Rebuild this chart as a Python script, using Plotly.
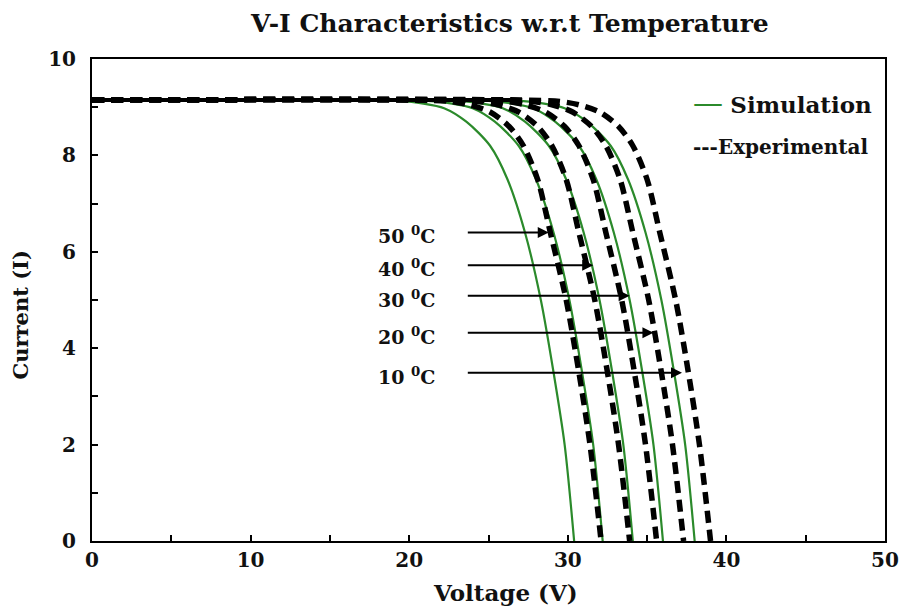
import plotly.graph_objects as go

# ---------------- data ----------------
temperatures = ["50", "40", "30", "20", "10"]

# Simulation curves (current grid shared, voltages per curve)
sim_current = [9.15, 9.15, 9.13, 9.08, 8.98, 8.7, 8.2, 7.5, 6.4, 5.0, 3.5, 2.0, 0.0]
sim_v_50 = [0, 17.4, 19.4, 20.8, 22.2, 23.6, 25.1, 26.2, 27.3, 28.3, 29.1, 29.8, 30.4]
sim_v_40 = [0, 19.2, 21.2, 22.6, 24.0, 25.4, 26.9, 28.0, 29.1, 30.1, 30.9, 31.6, 32.2]
sim_v_30 = [0, 21.1, 23.1, 24.5, 25.9, 27.3, 28.8, 29.9, 31.0, 32.0, 32.8, 33.5, 34.1]
sim_v_20 = [0, 23.0, 25.0, 26.4, 27.8, 29.2, 30.7, 31.8, 32.9, 33.9, 34.7, 35.4, 36.0]
sim_v_10 = [0, 25.0, 27.0, 28.4, 29.8, 31.2, 32.7, 33.8, 34.9, 35.9, 36.7, 37.4, 38.0]

# Experimental curves
exp_current = [9.15, 9.15, 9.12, 9.05, 8.9, 8.6, 8.2, 7.5, 6.4, 5.0, 3.5, 2.0, 0.0]
exp_v_50 = [0, 20.1, 22.6, 23.8, 25.1, 26.3, 27.2, 28.1, 28.9, 29.9, 30.7, 31.4, 32.1]
exp_v_40 = [0, 21.9, 24.4, 25.6, 26.9, 28.1, 29.0, 29.9, 30.7, 31.7, 32.5, 33.2, 33.9]
exp_v_30 = [0, 23.6, 26.1, 27.3, 28.6, 29.8, 30.7, 31.6, 32.4, 33.4, 34.2, 34.9, 35.6]
exp_v_20 = [0, 25.3, 27.8, 29.0, 30.3, 31.5, 32.4, 33.3, 34.1, 35.1, 35.9, 36.6, 37.3]
exp_v_10 = [0, 27.0, 29.5, 30.7, 32.0, 33.2, 34.1, 35.0, 35.8, 36.8, 37.6, 38.3, 39.0]

# Arrow pointers (tip on experimental curve, tail voltage, label voltage)
arrow_tip_v = [28.8, 31.6, 33.9, 35.4, 37.2]
arrow_tip_i = [6.40, 5.72, 5.09, 4.32, 3.49]
arrow_tail_v = 23.6
label_v = 19.8

sim_sets = [sim_v_50, sim_v_40, sim_v_30, sim_v_20, sim_v_10]
exp_sets = [exp_v_50, exp_v_40, exp_v_30, exp_v_20, exp_v_10]

GREEN = "#2b8a2b"
FONT = "DejaVu Serif"

fig = go.Figure()

for v in sim_sets:
    fig.add_trace(go.Scatter(x=v, y=sim_current, mode="lines",
                             line=dict(color=GREEN, width=2.2, shape="spline", smoothing=0.8),
                             showlegend=False, hoverinfo="skip"))

for v in exp_sets:
    fig.add_trace(go.Scatter(x=v, y=exp_current, mode="lines",
                             line=dict(color="black", width=5.5, dash="12px,7px",
                                       shape="spline", smoothing=0.8),
                             showlegend=False, hoverinfo="skip"))
    # plateau part of the measurement, merged into a solid band
    plateau = [(x, y) for x, y in zip(v, exp_current) if y >= 9.15]
    fig.add_trace(go.Scatter(x=[p[0] for p in plateau], y=[p[1] for p in plateau],
                             mode="lines", line=dict(color="black", width=4),
                             showlegend=False, hoverinfo="skip"))

annotations = []
for t, tv, ti in zip(temperatures, arrow_tip_v, arrow_tip_i):
    annotations.append(dict(x=tv, y=ti, xref="x", yref="y", ax=arrow_tail_v, ay=ti,
                            axref="x", ayref="y", text="", showarrow=True,
                            arrowhead=2, arrowsize=1.1, arrowwidth=2, arrowcolor="black"))
    annotations.append(dict(x=label_v, y=ti - 0.06, xref="x", yref="y",
                            text=f"<b>{t} <sup>0</sup>C</b>", showarrow=False,
                            font=dict(family=FONT, size=19, color="#111")))

annotations.append(dict(x=0.755, y=0.909, xref="paper", yref="paper", xanchor="left",
                        yanchor="middle", showarrow=False,
                        text=f'<span style="color:{GREEN};font-size:30px">—</span> <b>Simulation</b>',
                        font=dict(family=FONT, size=23, color="#111")))
annotations.append(dict(x=0.755, y=0.817, xref="paper", yref="paper", xanchor="left",
                        yanchor="middle", showarrow=False,
                        text="<b>---Experimental</b>",
                        font=dict(family=FONT, size=20, color="#111")))

# axis titles
annotations.append(dict(x=0.521, y=-0.106, xref="paper", yref="paper", xanchor="center",
                        yanchor="middle", showarrow=False, text="<b>Voltage (V)</b>",
                        font=dict(family=FONT, size=23, color="#111")))
annotations.append(dict(x=-0.090, y=0.469, xref="paper", yref="paper", xanchor="center",
                        yanchor="middle", showarrow=False, text="<b>Current (I)</b>",
                        textangle=-90, font=dict(family=FONT, size=21, color="#111")))

fig.update_layout(
    width=900, height=606,
    margin=dict(l=92, r=15, t=59, b=65, autoexpand=False),
    paper_bgcolor="white", plot_bgcolor="white",
    title=dict(text="<b>V-I Characteristics w.r.t Temperature</b>",
               x=0.527, xref="paper", y=0.962, yref="container",
               xanchor="center", yanchor="middle",
               font=dict(family=FONT, size=25, color="#111")),
    annotations=annotations,
    font=dict(family=FONT, color="#111"),
)

fig.update_xaxes(range=[0, 50], tickvals=[0, 10, 20, 30, 40, 50],
                 ticktext=["<b>0</b>", "<b>10</b>", "<b>20</b>", "<b>30</b>", "<b>40</b>", "<b>50</b>"],
                 ticks="inside", ticklen=6, tickwidth=2, tickcolor="black",
                 minor=dict(dtick=5, ticks="inside", ticklen=6, tickwidth=2, tickcolor="black"),
                 showline=True, linecolor="black", linewidth=2, mirror=True,
                 showgrid=False, zeroline=False, automargin=False,
                 tickfont=dict(family=FONT, size=20, color="#111"))

fig.update_yaxes(range=[0, 10], tickvals=[0, 2, 4, 6, 8, 10],
                 ticktext=["<b>0</b>", "<b>2</b>", "<b>4</b>", "<b>6</b>", "<b>8</b>", "<b>10</b>"],
                 ticks="inside", ticklen=6, tickwidth=2, tickcolor="black",
                 minor=dict(dtick=1, ticks="inside", ticklen=6, tickwidth=2, tickcolor="black"),
                 showline=True, linecolor="black", linewidth=2, mirror=True,
                 showgrid=False, zeroline=False, automargin=False,
                 tickfont=dict(family=FONT, size=20, color="#111"),
                 ticklabelstandoff=10)

fig.write_html("out.html")
